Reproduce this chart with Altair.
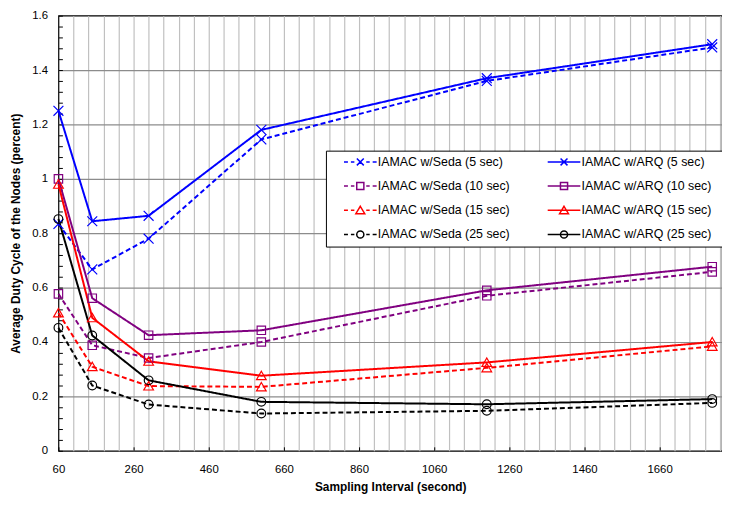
import altair as alt
import pandas as pd

# ---------------- data ----------------
sampling_interval = [60, 150, 300, 600, 1200, 1800]

series_names = [
    "IAMAC w/Seda (5 sec)", "IAMAC w/ARQ (5 sec)",
    "IAMAC w/Seda (10 sec)", "IAMAC w/ARQ (10 sec)",
    "IAMAC w/Seda (15 sec)", "IAMAC w/ARQ (15 sec)",
    "IAMAC w/Seda (25 sec)", "IAMAC w/ARQ (25 sec)",
]

seda_5 = [0.834, 0.667, 0.780, 1.145, 1.360, 1.483]
arq_5 = [1.250, 0.844, 0.864, 1.180, 1.370, 1.495]
seda_10 = [0.577, 0.388, 0.341, 0.400, 0.570, 0.658]
arq_10 = [1.000, 0.561, 0.425, 0.443, 0.590, 0.677]
seda_15 = [0.507, 0.309, 0.238, 0.235, 0.305, 0.384]
arq_15 = [0.980, 0.489, 0.329, 0.276, 0.325, 0.400]
seda_25 = [0.452, 0.240, 0.170, 0.137, 0.147, 0.176]
arq_25 = [0.852, 0.424, 0.259, 0.180, 0.171, 0.190]

all_values = [seda_5, arq_5, seda_10, arq_10, seda_15, arq_15, seda_25, arq_25]

rows = []
for name, vals in zip(series_names, all_values):
    for xv, yv in zip(sampling_interval, vals):
        rows.append({"series": name, "x": xv, "y": yv})
df = pd.DataFrame(rows)

# ---------------- styles ----------------
FONT = "Liberation Sans"
colors = ["#0000ff", "#0000ff", "#800080", "#800080",
          "#ff0000", "#ff0000", "#000000", "#000000"]
dashes = [[5, 3], [1, 0]] * 4
widths = [2, 2, 1.3, 1.3, 1.3, 1.3, 1.2, 1.2]

X_PATH = "M-1,-1L1,1M-1,1L1,-1"
SQ_PATH = "M-0.85,-0.85L0.85,-0.85L0.85,0.85L-0.85,0.85Z"
TRI_PATH = "M0,-0.9L0.98,0.8L-0.98,0.8Z"
CIR_PATH = "M0.88,0A0.88,0.88,0,1,1,-0.88,0A0.88,0.88,0,1,1,0.88,0Z"
marker_kinds = ["x", "x", "sq", "sq", "tri", "tri", "cir", "cir"]
plot_shapes = [{"x": X_PATH, "sq": SQ_PATH, "tri": TRI_PATH, "cir": CIR_PATH}[k]
               for k in marker_kinds]

L0 = 7.0  # legend line start, px relative to the symbol centre


def legend_path(kind, dashed):
    s = 3.0  # px per unit for symbolSize 36

    def f(v):
        return f"{v / s:.3f}"
    parts = [f"M{f(L0 + 183)},0"]
    segs = [(0, 4), (7, 10.5), (22.5, 26), (29, 33)] if dashed else [(0, 33)]
    for a, b in segs:
        parts.append(f"M{f(L0 + a)},0L{f(L0 + b)},0")
    c = L0 + 16.5
    if kind == "x":
        h = 3.5
        parts.append(f"M{f(c - h)},{f(-h)}L{f(c + h)},{f(h)}M{f(c - h)},{f(h)}L{f(c + h)},{f(-h)}")
    elif kind == "sq":
        h = 3.6
        parts.append(f"M{f(c - h)},{f(-h)}L{f(c + h)},{f(-h)}L{f(c + h)},{f(h)}L{f(c - h)},{f(h)}Z")
    elif kind == "tri":
        parts.append(f"M{f(c)},{f(-4)}L{f(c + 4.5)},{f(3.5)}L{f(c - 4.5)},{f(3.5)}Z")
    else:
        r = 3.6
        parts.append(f"M{f(c + r)},0A{f(r)},{f(r)},0,1,1,{f(c - r)},0A{f(r)},{f(r)},0,1,1,{f(c + r)},0Z")
    return "".join(parts)


legend_shapes = [legend_path(k, i % 2 == 0) for i, k in enumerate(marker_kinds)]

x_values_ticks = list(range(60, 1821, 40))
y_values_ticks = [round(i * 0.04, 2) for i in range(41)]

x_enc = alt.X(
    "x:Q",
    scale=alt.Scale(domain=[60, 1826], nice=False, zero=False),
    axis=alt.Axis(
        values=x_values_ticks, offset=-4, tickSize=4, tickColor="black", tickWidth=1,
        tickOpacity={"condition": {"test": "(datum.value - 60) % 200 === 0", "value": 1}, "value": 0},
        domain=False,
        grid=True, gridColor="#c0c0c0", gridWidth=1.2,
        gridOpacity={"condition": {"test": "datum.value > 61", "value": 1}, "value": 0},
        labelExpr="(datum.value - 60) % 200 === 0 ? format(datum.value, 'd') : ''",
        labelFont=FONT, labelFontSize=11.5, labelColor="black", labelPadding=13,
        labelFlush=False, labelOverlap=False,
        title="Sampling Interval (second)", titleFont=FONT, titleFontSize=12,
        titleFontWeight="bold", titleColor="black", titlePadding=7,
    ),
)
y_enc = alt.Y(
    "y:Q",
    scale=alt.Scale(domain=[0, 1.6], nice=False),
    axis=alt.Axis(
        values=y_values_ticks, offset=-4, tickSize=4, tickColor="black", tickWidth=1,
        domain=False,
        grid=True, gridColor="#8c8c8c", gridWidth=1.2,
        gridOpacity={"condition": {"test": "abs(datum.value * 5 - round(datum.value * 5)) < 0.001 && datum.value > 0.01 && datum.value < 1.59", "value": 1}, "value": 0},
        labelExpr="abs(datum.value * 5 - round(datum.value * 5)) < 0.001 ? format(datum.value, '~g') : ''",
        labelFont=FONT, labelFontSize=11.5, labelColor="black", labelPadding=11,
        labelFlush=False, labelOverlap=False,
        title="Average Duty Cycle of the Nodes (percent)", titleFont=FONT, titleFontSize=12,
        titleFontWeight="bold", titleColor="black", titlePadding=9,
    ),
)

color_scale = alt.Scale(domain=series_names, range=colors)

lines = alt.Chart(df).mark_line().encode(
    x=x_enc, y=y_enc,
    color=alt.Color("series:N", scale=color_scale, legend=None),
    strokeDash=alt.StrokeDash("series:N", scale=alt.Scale(domain=series_names, range=dashes), legend=None),
    strokeWidth=alt.StrokeWidth("series:N", scale=alt.Scale(domain=series_names, range=widths), legend=None),
    detail="series:N",
)

points = alt.Chart(df).mark_point(filled=False, opacity=1, size=100, strokeWidth=1.2).encode(
    x=x_enc, y=y_enc,
    color=alt.Color("series:N", scale=color_scale, legend=None),
    shape=alt.Shape("series:N", scale=alt.Scale(domain=series_names, range=plot_shapes), legend=None),
)

legend_props = dict(
    title=None, orient="none", legendX=270.5, legendY=136.5, columns=2, direction="horizontal",
    symbolSize=36, symbolStrokeWidth=1.5, symbolOpacity=1,
    labelFont=FONT, labelFontSize=12.5, labelColor="black", labelOffset=35, labelLimit=0,
    rowPadding=10.5, columnPadding=6, padding=5,
    strokeColor="black", fillColor="white",
)

legend_layer = alt.Chart(df).transform_filter("datum.x < 0").mark_point(
    filled=False, opacity=1, strokeWidth=1.5
).encode(
    x=x_enc, y=y_enc,
    color=alt.Color("series:N", scale=color_scale, legend=alt.Legend(**legend_props)),
    shape=alt.Shape("series:N", scale=alt.Scale(domain=series_names, range=legend_shapes),
                    legend=alt.Legend(**legend_props)),
)

chart = alt.layer(lines, points, legend_layer).resolve_scale(
    shape="independent"
).resolve_legend(
    color="independent", shape="independent"
).properties(
    width=671, height=440,
    autosize=alt.AutoSizeParams(type="none"),
    padding={"left": 51, "top": 5, "right": 0, "bottom": 45},
    background="white",
).configure_view(
    stroke="black", strokeWidth=1.2
)

chart.save("out.html", embed_options={"renderer": "svg", "actions": False})
